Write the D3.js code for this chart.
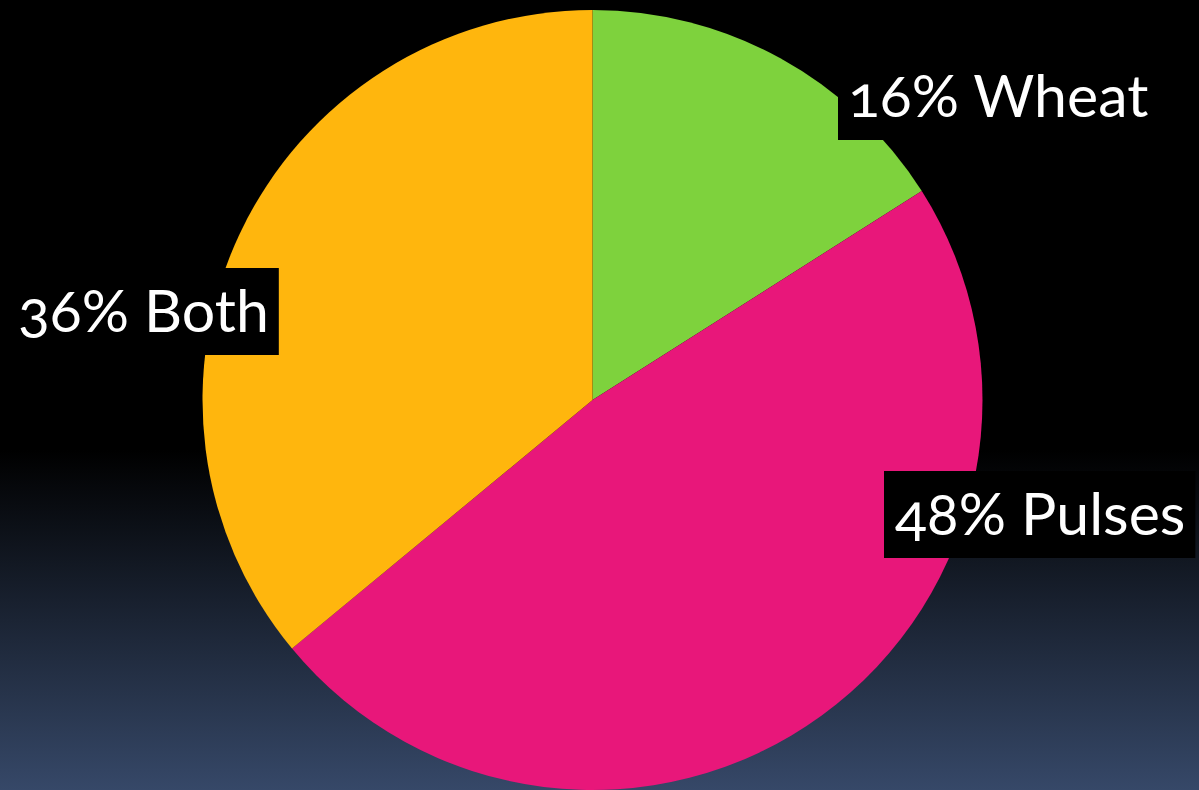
<!DOCTYPE html>
<html>
<head>
<meta charset="utf-8">
<script src="https://cdn.jsdelivr.net/npm/d3@7"></script>
<style>
  html, body { margin: 0; padding: 0; background: #000; }
  svg { display: block; }
  .lbl { font-family: Lato, "Open Sans", sans-serif; font-weight: 400; fill: #fff; font-variant-numeric: oldstyle-nums; font-feature-settings: "onum" 1; }
</style>
</head>
<body>
<svg id="chart" width="1199" height="790"></svg>
<script>
// Crop mix shares (percent)
const categories = ["Wheat", "Pulses", "Both"];
const shares = [16, 48, 36];
const sliceColors = ["#7ed23d", "#e8177a", "#ffb60d"];

const W = 1199, H = 790;
const cx = 592.5, cy = 400, radius = 390;

const svg = d3.select("#chart");

// Background: black upper half fading to slate blue at the bottom
const defs = svg.append("defs");
const grad = defs.append("linearGradient")
  .attr("id", "bg").attr("x1", 0).attr("y1", 0).attr("x2", 0).attr("y2", 1);
grad.append("stop").attr("offset", "0%").attr("stop-color", "#000000");
grad.append("stop").attr("offset", "57%").attr("stop-color", "#000000");
grad.append("stop").attr("offset", "100%").attr("stop-color", "#364868");
svg.append("rect").attr("width", W).attr("height", H).attr("fill", "url(#bg)");

const data = categories.map((c, i) => ({ name: c, value: shares[i], color: sliceColors[i] }));

const pie = d3.pie().value(d => d.value).sort(null).startAngle(0).endAngle(2 * Math.PI);
const arc = d3.arc().innerRadius(0).outerRadius(radius);

const g = svg.append("g").attr("transform", `translate(${cx},${cy})`);
g.selectAll("path.slice")
  .data(pie(data))
  .join("path")
  .attr("class", "slice")
  .attr("d", arc)
  .attr("fill", d => d.data.color);

// Data labels: white text on black boxes
const fontSize = 59;
const labelLayout = {
  Wheat:  { x: 848, y: 117, padLeft: 10 },
  Pulses: { x: 895, y: 535, padLeft: 11 },
  Both:   { x: 18,  y: 332, padLeft: 18 }
};
const padRight = 10, boxAbove = 64, boxBelow = 23;

const labels = svg.append("g");
data.forEach(d => {
  const pos = labelLayout[d.name];
  const grp = labels.append("g");
  const box = grp.append("rect").attr("fill", "#000");
  const t = grp.append("text")
    .attr("class", "lbl")
    .attr("x", pos.x)
    .attr("y", pos.y)
    .attr("font-size", fontSize)
    .text(`${d.value}% ${d.name}`);
  const bb = t.node().getBBox();
  box.attr("x", pos.x - pos.padLeft)
     .attr("y", pos.y - boxAbove)
     .attr("width", bb.width + pos.padLeft + padRight)
     .attr("height", boxAbove + boxBelow);
});
</script>
</body>
</html>
